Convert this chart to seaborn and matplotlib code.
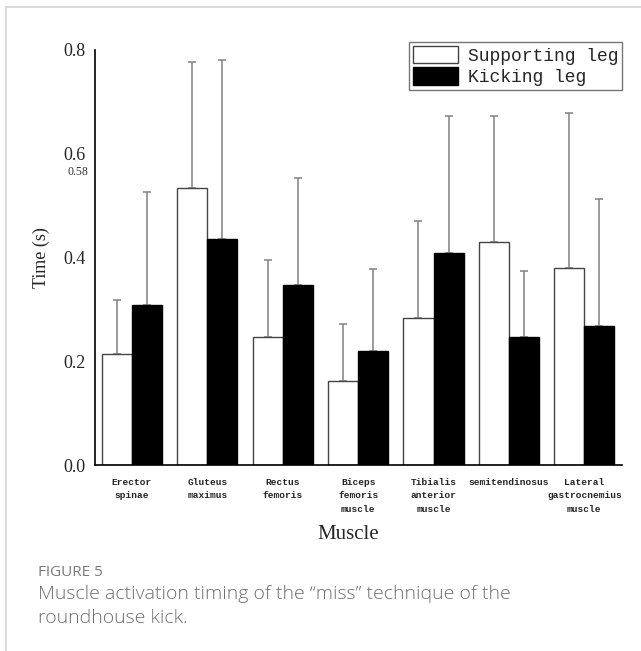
import numpy as np
import pandas as pd
import seaborn as sns
import matplotlib.pyplot as plt
from matplotlib.lines import Line2D
from matplotlib.patches import Patch

# Data
muscles = ["Erector\nspinae", "Gluteus\nmaximus", "Rectus\nfemoris",
           "Biceps\nfemoris\nmuscle", "Tibialis\nanterior\nmuscle",
           "semitendinosus", "Lateral\ngastrocnemius\nmuscle"]
legs = ["Supporting leg", "Kicking leg"]
supporting_mean = [0.214, 0.534, 0.247, 0.162, 0.283, 0.430, 0.380]
kicking_mean = [0.308, 0.436, 0.347, 0.220, 0.409, 0.247, 0.268]
supporting_top = [0.318, 0.777, 0.395, 0.272, 0.470, 0.673, 0.679]
kicking_top = [0.526, 0.781, 0.553, 0.378, 0.673, 0.374, 0.513]
yticks = [0.0, 0.2, 0.4, 0.6, 0.8]
marked_value = 0.58

df = pd.DataFrame({
    "Muscle": muscles * 2,
    "Leg": [legs[0]] * 7 + [legs[1]] * 7,
    "Time": supporting_mean + kicking_mean,
})

sns.set_theme(style="white")
plt.rcParams["font.family"] = ["Liberation Serif", "DejaVu Serif"]

fig = plt.figure(figsize=(6.41, 6.51), dpi=100)
ax = fig.add_axes([0.1482, 0.2857, 0.8222, 0.6375])

sns.barplot(data=df, x="Muscle", y="Time", hue="Leg", order=muscles, hue_order=legs,
            palette=["white", "black"], edgecolor="black", linewidth=1.0,
            width=0.8, errorbar=None, legend=False, ax=ax)
# white bars get a slightly grey outline like the original
for p in ax.containers[0].patches:
    p.set_edgecolor("#444444")

# upper-only error bars, grey
tops = [supporting_top, kicking_top]
means = [supporting_mean, kicking_mean]
for cont, top, mean in zip(ax.containers, tops, means):
    xs = [p.get_x() + p.get_width() / 2 for p in cont.patches]
    err = np.array(top) - np.array(mean)
    ax.errorbar(xs, mean, yerr=[np.zeros(len(err)), err], fmt="none",
                ecolor="#8a8a8a", elinewidth=1.2, capsize=3, capthick=1.2, zorder=0)

ax.set_xlim(-0.49, 6.5)
ax.set_ylim(0, 0.8)
ax.set_yticks(yticks)
ax.set_yticklabels([f"{t:.1f}" for t in yticks], fontsize=13)
ax.tick_params(axis="x", length=0, pad=9)
ax.tick_params(axis="y", length=0, pad=7)
for lbl in ax.get_xticklabels():
    lbl.set_family(["Liberation Mono", "DejaVu Sans Mono"])
    lbl.set_fontsize(6.8)
    lbl.set_fontweight("bold")
    lbl.set_linespacing(1.65)
ax.set_xlabel("Muscle", fontsize=15)
ax.xaxis.set_label_coords(0.48, -0.145)
ax.set_ylabel("Time (s)", fontsize=13)
ax.yaxis.set_label_coords(-0.085, 0.5)

for side in ["top", "right"]:
    ax.spines[side].set_visible(False)
for side in ["left", "bottom"]:
    ax.spines[side].set_color("black")
    ax.spines[side].set_linewidth(1.2)

# small "0.58" mark under the 0.6 tick label
ax.annotate(f"{marked_value:.2f}", xy=(0, marked_value), xycoords=ax.get_yaxis_transform(),
            xytext=(-5, -6), textcoords="offset points", fontsize=8.5,
            ha="right", va="center", color="#333333")

handles = [Patch(facecolor="white", edgecolor="#444444", label=legs[0]),
           Patch(facecolor="black", edgecolor="black", label=legs[1])]
leg = ax.legend(handles=handles, loc="upper right", bbox_to_anchor=(1.0, 1.019),
                prop={"family": "Liberation Mono", "size": 13}, frameon=True,
                fancybox=False, handlelength=2.5, handleheight=1.1,
                handletextpad=0.55, borderpad=0.2, labelspacing=0.15,
                borderaxespad=0.0)
leg.get_frame().set_edgecolor("#555555")
leg.get_frame().set_linewidth(1.0)

# card frame and caption
fig.add_artist(Line2D([6 / 641, 1], [1 - 7 / 651] * 2, color="#d4d4d4", lw=1.2))
fig.add_artist(Line2D([6 / 641] * 2, [0, 1 - 7 / 651], color="#d4d4d4", lw=1.2))
fig.text(38 / 641, 1 - 573 / 651, "FIGURE 5", family="Open Sans", fontsize=11,
         color="#7a7a7a", va="center")
fig.text(38 / 641, 1 - 606 / 651,
         "Muscle activation timing of the \u201cmiss\u201d technique of the\nroundhouse kick.",
         family="Open Sans", fontweight="light", fontsize=14, color="#6e6e6e",
         va="center", linespacing=1.45)

fig.savefig("out.png", dpi=100, facecolor="white")
